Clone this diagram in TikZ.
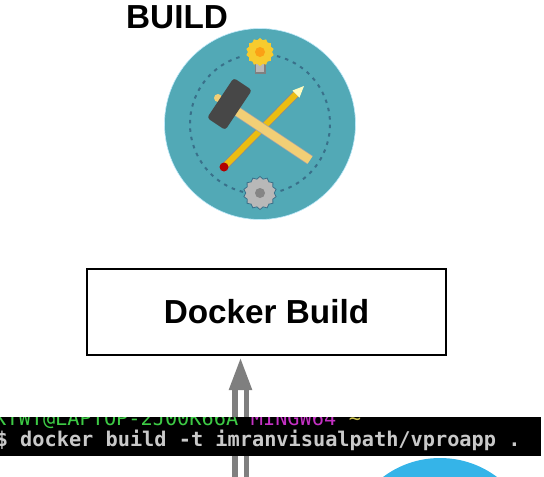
\documentclass[tikz,border=0pt]{standalone}
\usepackage{fontspec}
\setmainfont{Liberation Sans}
\newfontfamily\termfont{DejaVu Sans Mono}
\usetikzlibrary{arrows.meta, calc, positioning, shapes.geometric}
\definecolor{icon teal}{HTML}{52A9B6}
\definecolor{ring blue}{HTML}{39708A}
\definecolor{arrow gray}{HTML}{7F7F7F}
\definecolor{term gray}{HTML}{C9C9C9}
\definecolor{term green}{HTML}{3DCB45}
\definecolor{term pink}{HTML}{C531C5}
\definecolor{term yellow}{HTML}{C9C04A}
\definecolor{globe blue}{HTML}{35B4E8}
\definecolor{bulb yellow}{HTML}{F7CB2E}
\definecolor{pencil yellow}{HTML}{EBBD12}
\definecolor{handle yellow}{HTML}{F2CF76}
\tikzset{
    title/.style={font=\bfseries\fontsize{33.3}{33.3}\selectfont, inner sep=0pt},
    buildbox/.style={draw, line width=2pt, minimum width=359pt, minimum height=86pt, font=\bfseries\fontsize{33.3}{33.3}\selectfont},
    iconring/.style={ring blue, line width=2pt, dash pattern=on 3.5pt off 5pt},
    termline/.style={font=\termfont\fontsize{20.27}{20.27}\selectfont, anchor=base west, inner sep=0pt},
    cog/.style={star, star points=14, star point ratio=1.16, inner sep=0pt, draw=ring blue, line width=.8pt},
    pencilbody/.style={double=pencil yellow, double distance=6pt, line width=.8pt, draw=black!45},
    handlebody/.style={double=handle yellow, double distance=8.5pt, line width=.8pt, draw=black!35}
}

\begin{document}
\begin{tikzpicture}[x=1pt, y=-1pt]
        \useasboundingbox (0,0) rectangle (544,477);

        \node (icon) [circle, fill=icon teal, draw=cyan!25, line width=.6pt, minimum size=191pt, inner sep=0pt] at (260,124) {};
        \node (buildlabel) [title, anchor=base west] at (126,28) {BUILD};
        \node (dockerbox) [buildbox] at (266.5,312) {Docker Build};
        \coordinate (arrowfoot) at (240.5,477);

        \draw[iconring] (icon.center) ++(-76:70) arc (-76:76:70);
        \draw[iconring] (icon.center) ++(104:70) arc (104:256:70);

        \fill[black!50] (254.5,61) rectangle (265.5,73.5);
        \fill[black!28] (256,62) rectangle (264,72);
        \node (bulb) [cog, fill=bulb yellow, draw=bulb yellow, minimum size=27pt] at (260,52) {};
        \fill[orange!55!bulb yellow] (bulb.center) circle (5pt);
        \node (gear) [cog, fill=black!28, minimum size=33pt] at (260,193) {};
        \fill[black!48] (gear.center) circle (5pt);

        \coordinate (pencilend) at (224,167);
        \coordinate (pencilneck) at (296,94);
        \coordinate (penciltip) at (304,86);
        \draw[pencilbody] (pencilend) -- (pencilneck);
        \fill[yellow!25!white] ($(pencilneck)+(-3.5,-3.5)$) -- (penciltip) -- ($(pencilneck)+(3.5,3.5)$) -- cycle;
        \fill[red!70!black] (pencilend) circle (4.5pt);

        \coordinate (handlestart) at (232,108);
        \coordinate (handleend) at (310,160);
        \fill[handle yellow] (218,98) circle (4pt);
        \draw[handlebody] (handlestart) -- (handleend);
        \node (hammerhead) [rectangle, rounded corners=3pt, fill=black!72, rotate=-33.7, minimum width=22pt, minimum height=48pt, inner sep=0pt] at (229.5,104) {};

        \fill[globe blue] (440,553) circle (95pt);

        \draw[arrow gray, line width=5.5pt, double=white, double distance=6pt, -{Triangle[length=32pt, width=22pt, fill=arrow gray]}, shorten >=2pt] (arrowfoot) -- (arrowfoot |- dockerbox.south);

        \node (terminal) [fill=black, anchor=north west, minimum width=541pt, minimum height=39pt, inner sep=0pt] at (0,417) {};
        \begin{scope}
            \clip (0,417) rectangle (541,456);
            \node (hostline) [termline, text=term green] at (-6,425) {KTWT@LAPTOP-2J00K66A};
            \node (mingwline) [termline, text=term pink, anchor=base west] at ($(hostline.base east)+(12.2,0)$) {MINGW64};
            \node (tildeline) [termline, text=term yellow, anchor=base west] at ($(mingwline.base east)+(12.2,0)$) {\textasciitilde};
            \node (cmdline) [termline, text=term gray] at (-4.4,446) {\bfseries \$ docker build -t imranvisualpath/vproapp .};
        \end{scope}
\end{tikzpicture}
\end{document}
